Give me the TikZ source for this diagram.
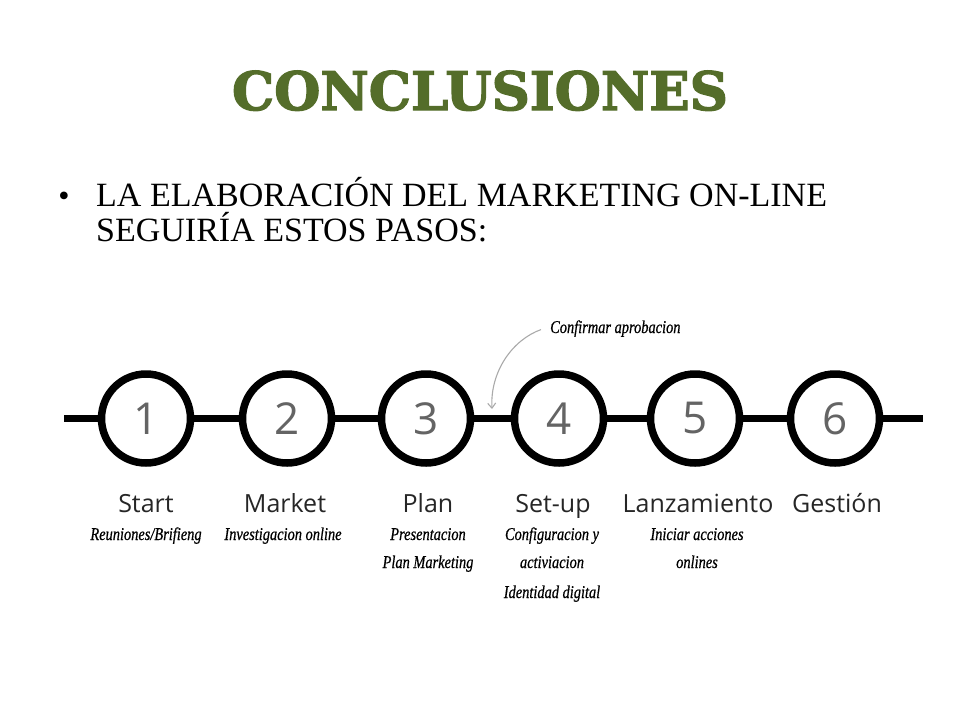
\documentclass[tikz,border=0pt]{standalone}
\usepackage{fontspec}
\setmainfont{Liberation Serif}
\newfontfamily\titlefont[BoldFeatures={FakeBold=2.5}]{DejaVu Serif}
\newfontfamily\labelfont{Open Sans}
\newfontfamily\handfont[FakeStretch=0.8,FakeBold=0.6]{Liberation Serif}
\usetikzlibrary{arrows.meta}
\definecolor{titlegreen}{RGB}{84,109,42}
\definecolor{numgray}{RGB}{100,100,100}
\definecolor{arrowgray}{RGB}{170,170,170}
\begin{document}
\begin{tikzpicture}[x=1pt,y=-1pt,
  stepcircle/.style={circle,draw=black,fill=white,line width=7.5pt,minimum size=89pt,inner sep=0pt,
    font=\labelfont\fontsize{44}{44}\selectfont,text=numgray},
  steplabel/.style={anchor=base,font=\labelfont\fontsize{25}{25}\selectfont,text=black!85,inner sep=0pt},
  hand/.style={anchor=base,font=\handfont\itshape\fontsize{18}{18}\selectfont,inner sep=0pt},
  track/.style={line width=7.7pt,black}
]
\useasboundingbox (0,0) rectangle (960,720);
% title
\node[anchor=base,inner sep=0pt,text=titlegreen,font=\titlefont\bfseries\fontsize{53}{53}\selectfont] (title) at (480,110) {CONCLUSIONES};
% bullet text
\node[anchor=base,inner sep=0pt,font=\fontsize{32}{32}\selectfont] (bul) at (64,206) {•};
\node[anchor=base west,inner sep=0pt,font=\fontsize{34}{34}\selectfont] (t1) at (96,206) {LA ELABORACIÓN DEL MARKETING ON-LINE};
\node[anchor=base west,inner sep=0pt,font=\fontsize{34}{34}\selectfont] (t2) at (96,241) {SEGUIRÍA ESTOS PASOS:};
% circles
\node[stepcircle] (c1) at (146,418.5) {1};
\node[stepcircle] (c2) at (287,418.5) {2};
\node[stepcircle] (c3) at (426,418.5) {3};
\node[stepcircle] (c4) at (559,418.5) {4};
\node[stepcircle] (c5) at (695,418.5) {5};
\node[stepcircle] (c6) at (835,418.5) {6};
\coordinate (L) at (64,418.5);
\coordinate (R) at (923,418.5);
\draw[track] (L) -- (c1);
\draw[track] (c1) -- (c2);
\draw[track] (c2) -- (c3);
\draw[track] (c3) -- (c4);
\draw[track] (c4) -- (c5);
\draw[track] (c5) -- (c6);
\draw[track] (c6) -- (R);
% labels
\node[steplabel] (l1) at (146,512) {Start};
\node[steplabel] (l2) at (285,512) {Market};
\node[steplabel] (l3) at (428,512) {Plan};
\node[steplabel] (l4) at (553,512) {Set-up};
\node[steplabel] (l5) at (698,512) {Lanzamiento};
\node[steplabel] (l6) at (837,512) {Gestión};
% handwritten sublabels
\node[hand] (s1a) at (146,540) {Reuniones/Brifieng};
\node[hand] (s2a) at (283,540) {Investigacion online};
\node[hand] (s3a) at (428,540) {Presentacion};
\node[hand] (s3b) at (428,568) {Plan Marketing};
\node[hand] (s4a) at (552,540) {Configuracion y};
\node[hand] (s4b) at (552,568) {activiacion};
\node[hand] (s4c) at (552,598) {Identidad digital};
\node[hand] (s5a) at (697,540) {Iniciar acciones};
\node[hand] (s5b) at (697,568) {onlines};
% annotation
\node[anchor=base west,inner sep=0pt,font=\handfont\itshape\fontsize{18}{18}\selectfont] (conf) at (550,333) {Confirmar aprobacion};
\coordinate (tip) at (492,409);
\draw[arrowgray,line width=1.1pt,-{Straight Barb[length=5pt,width=8pt]}]
  ([xshift=-9pt,yshift=-1pt]conf.west) .. controls (512,340) and (490,372) .. (tip);
\end{tikzpicture}
\end{document}
